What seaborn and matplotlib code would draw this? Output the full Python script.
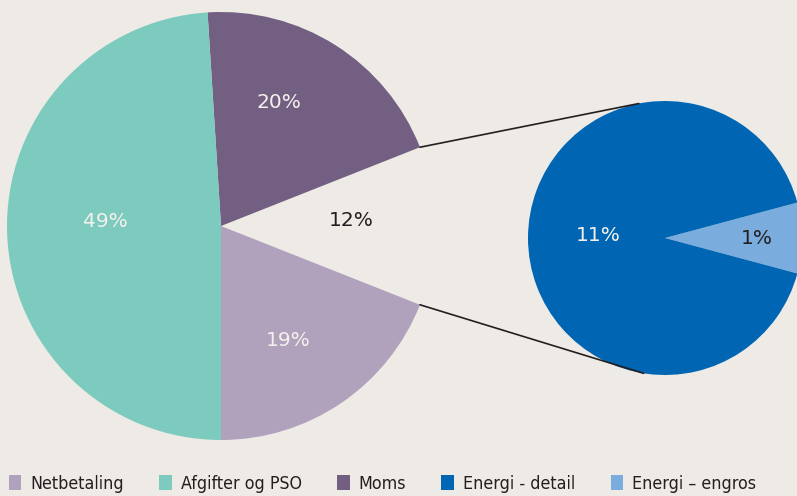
import matplotlib
matplotlib.use('Agg')
import numpy as np
import matplotlib.pyplot as plt
import seaborn as sns
from matplotlib.patches import ConnectionPatch, Patch
from matplotlib import font_manager
from matplotlib.font_manager import FontProperties

# Data
big_labels = ['Moms', 'Energi', 'Netbetaling', 'Afgifter og PSO']
big_values = [20, 12, 19, 49]
big_colors = ['#735F82', '#EEEBE6', '#B0A2BD', '#7DCBBE']

small_labels = ['Energi \u2013 engros', 'Energi - detail']
small_values = [1, 11]
small_colors = ['#7AADDD', '#0066B3']

legend_labels = ['Netbetaling', 'Afgifter og PSO', 'Moms', 'Energi - detail', 'Energi \u2013 engros']
legend_colors = ['#B0A2BD', '#7DCBBE', '#735F82', '#0066B3', '#7AADDD']

# label placement (radius units from pie centre)
big_label_pos = [(0.271, 0.579), (0.607, 0.028), (0.313, -0.533), (-0.542, 0.019)]
big_label_col = ['#F4F1EC', '#231F20', '#F4F1EC', '#F4F1EC']
small_label_pos = [(0.672, 0.0), (-0.489, 0.015)]
small_label_col = ['#231F20', '#F4F1EC']

bg = '#EEEBE6'
sns.set_theme(style='white')
plt.rcParams['font.family'] = ['DejaVu Sans']

names = {f.name for f in font_manager.fontManager.ttflist}
if 'Liberation Sans Narrow' in names:
    leg_font = FontProperties(family='Liberation Sans Narrow', size=14)
else:
    leg_font = FontProperties(family='DejaVu Sans', stretch='condensed', size=12.8)

W, H = 797, 496
fig = plt.figure(figsize=(W / 100, H / 100), dpi=100, facecolor=bg)
ax1 = fig.add_axes([7 / W, (H - 440) / H, 428 / W, 428 / H])
ax2 = fig.add_axes([528 / W, (H - 375) / H, 274 / W, 274 / H])

# Big pie
wedges1, _ = ax1.pie(big_values, colors=big_colors, startangle=93.6, counterclock=False,
                     wedgeprops=dict(linewidth=0))
wedges1[1].set_visible(False)
ax1.set_xlim(-1, 1)
ax1.set_ylim(-1, 1)
for (x, y), v, c in zip(big_label_pos, big_values, big_label_col):
    ax1.text(x, y, f'{v}%', ha='center', va='center', color=c, fontsize=14.5)

# Small pie
wedges2, _ = ax2.pie(small_values, colors=small_colors, startangle=-15,
                     wedgeprops=dict(linewidth=0))
ax2.set_xlim(-1, 1)
ax2.set_ylim(-1, 1)
for (x, y), v, c in zip(small_label_pos, small_values, small_label_col):
    ax2.text(x, y, f'{v}%', ha='center', va='center', color=c, fontsize=14.5)

# Connector lines
gap = wedges1[1]
t_top, t_bot = np.deg2rad(gap.theta2), np.deg2rad(gap.theta1)
for t1, t2 in [(t_top, np.deg2rad(101)), (t_bot, np.deg2rad(-99))]:
    con = ConnectionPatch(xyA=(np.cos(t2), np.sin(t2)), coordsA=ax2.transData,
                          xyB=(np.cos(t1), np.sin(t1)), coordsB=ax1.transData,
                          color='#231F20', linewidth=1.2)
    fig.add_artist(con)

# Legend
handles = [Patch(facecolor=c, edgecolor='none', label=l) for l, c in zip(legend_labels, legend_colors)]
fig.legend(handles=handles, loc='lower left', bbox_to_anchor=(0.002, -0.008), ncol=5, frameon=False,
           handlelength=0.7, handleheight=0.9, handletextpad=0.5, columnspacing=2.0,
           prop=leg_font, labelcolor='#231F20', borderaxespad=0)

fig.savefig('out.png', dpi=100, facecolor=bg)
